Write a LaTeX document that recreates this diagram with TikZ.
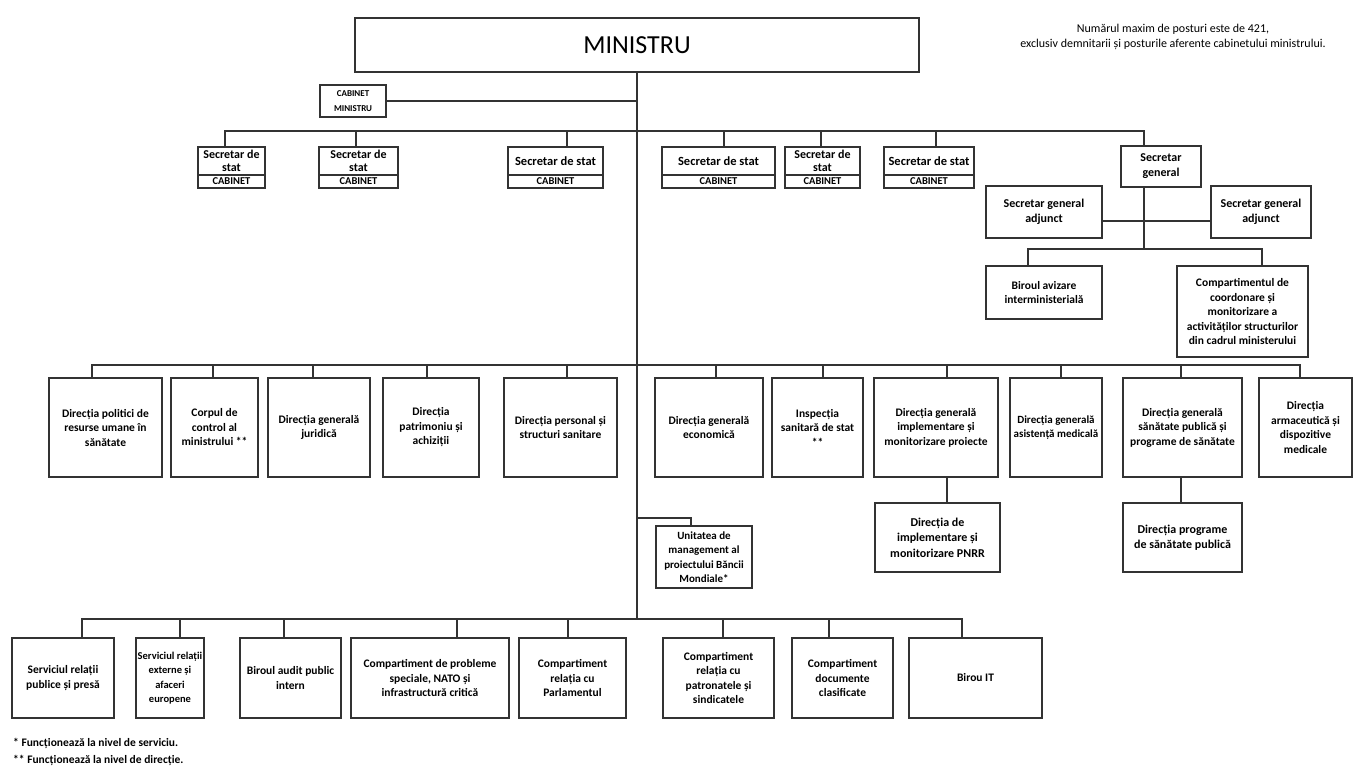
\documentclass[tikz,border=0pt]{standalone}
\usepackage{fontspec}
\setmainfont{Carlito}
\begin{document}
\begin{tikzpicture}[x=1pt,y=-1pt,
  line/.style={draw=black!80, line width=1.2pt},
  box/.style={draw=black!80, line width=1.3pt, fill=white, align=center, inner sep=1pt,
    font=\bfseries\fontsize{11.5}{14.5}\selectfont},
  wh/.style 2 args={minimum width=#1pt, minimum height=#2pt},
  secbox/.style={box, font=\bfseries\fontsize{12.5}{13}\selectfont},
  secboxtwo/.style={box, font=\bfseries\fontsize{12}{12.5}\selectfont},
  cabbox/.style={box, font=\bfseries\fontsize{10.5}{10.5}\selectfont},
  note/.style={align=center, font=\fontsize{12}{15}\selectfont},
  foot/.style={anchor=west, inner sep=0pt, font=\bfseries\fontsize{11.5}{12}\selectfont}
]
\fill[white] (0,0) rectangle (1357,767);
\useasboundingbox (0,0) rectangle (1357,767);

% ---- top
\node[box, wh={564}{54}, font=\fontsize{26}{28}\selectfont] (min) at (637,45) {MINISTRU};
\node[note] (nt) at (1173,36.5) {Numărul maxim de posturi este de 421,\\exclusiv demnitarii și posturile aferente cabinetului ministrului.};
\node[box, wh={66}{32}, font=\bfseries\fontsize{9}{15}\selectfont] (cab) at (353,101) {CABINET\\MINISTRU};

% ---- secretaries
\node[secboxtwo, wh={67}{28}] (s1) at (231.5,161) {Secretar de\\stat};
\node[cabbox, wh={67}{13}] (s1c) at (231.5,181.5) {CABINET};
\node[secboxtwo, wh={79}{28}] (s2) at (358.5,161) {Secretar de\\stat};
\node[cabbox, wh={79}{13}] (s2c) at (358.5,181.5) {CABINET};
\node[secbox, wh={95}{28}] (s3) at (555.5,161) {Secretar de stat};
\node[cabbox, wh={95}{13}] (s3c) at (555.5,181.5) {CABINET};
\node[secbox, wh={113}{28}] (s4) at (718.5,161) {Secretar de stat};
\node[cabbox, wh={113}{13}] (s4c) at (718.5,181.5) {CABINET};
\node[secboxtwo, wh={75}{28}] (s5) at (822.5,161) {Secretar de\\stat};
\node[cabbox, wh={75}{13}] (s5c) at (822.5,181.5) {CABINET};
\node[secbox, wh={90}{28}] (s6) at (929,161) {Secretar de stat};
\node[cabbox, wh={90}{13}] (s6c) at (929,181.5) {CABINET};
\node[box, wh={80}{41}, font=\bfseries\fontsize{12}{15}\selectfont] (sg) at (1161,166.5) {Secretar\\general};

\node[box, wh={116}{52}, font=\bfseries\fontsize{12}{15}\selectfont] (sga1) at (1044,212) {Secretar general\\adjunct};
\node[box, wh={100}{52}, font=\bfseries\fontsize{12}{15}\selectfont] (sga2) at (1261,212) {Secretar general\\adjunct};
\node[box, wh={116}{53}] (bav) at (1044,292.5) {Biroul avizare\\interministerială};
\node[box, wh={131}{91}] (comp) at (1242.5,311.5) {Compartimentul de\\coordonare și\\monitorizare a\\activităților structurilor\\din cadrul ministerului};

% ---- directions
\node[box, wh={113}{99}] (d1) at (105.5,427.5) {Direcția politici de\\resurse umane în\\sănătate};
\node[box, wh={87}{99}] (d2) at (214.5,427.5) {Corpul de\\control al\\ministrului **};
\node[box, wh={102}{99}] (d3) at (319,427.5) {Direcția generală\\juridică};
\node[box, wh={96}{99}] (d4) at (431,427.5) {Direcția\\patrimoniu și\\achiziții};
\node[box, wh={113}{99}] (d5) at (560.5,427.5) {Direcția personal și\\structuri sanitare};
\node[box, wh={108}{99}] (d6) at (709,427.5) {Direcția generală\\economică};
\node[box, wh={91}{99}] (d7) at (817.5,427.5) {Inspecția\\sanitară de stat\\**};
\node[box, wh={124}{99}] (d8) at (936,427.5) {Direcția generală\\implementare și\\monitorizare proiecte};
\node[box, wh={92}{99}, font=\bfseries\fontsize{11}{14.5}\selectfont] (d9) at (1056,427.5) {Direcția generală\\asistență medicală};
\node[box, wh={119}{99}] (d10) at (1182.5,427.5) {Direcția generală\\sănătate publică și\\programe de sănătate};
\node[box, wh={93}{99}] (d11) at (1305.5,427.5) {Direcția\\armaceutică și\\dispozitive\\medicale};

\node[box, wh={125}{69}, font=\bfseries\fontsize{12}{15.5}\selectfont] (pnrr) at (937.5,537.5) {Direcția de\\implementare și\\monitorizare PNRR};
\node[box, wh={119}{69}, font=\bfseries\fontsize{12}{15.5}\selectfont] (prog) at (1182.5,537.5) {Direcția programe\\de sănătate publică};
\node[box, wh={96}{62}, font=\bfseries\fontsize{11}{14.5}\selectfont] (unit) at (704,557) {Unitatea de\\management al\\proiectului Băncii\\Mondiale*};

% ---- bottom row
\node[box, wh={102}{80}] (b1) at (63,678) {Serviciul relații\\publice și presă};
\node[box, wh={68}{80}, font=\bfseries\fontsize{10.5}{14.5}\selectfont] (b2) at (170,678) {Serviciul relații\\externe și\\afaceri\\europene};
\node[box, wh={101}{80}] (b3) at (290.5,678) {Biroul audit public\\intern};
\node[box, wh={158}{80}] (b4) at (430,678) {Compartiment de probleme\\speciale, NATO și\\infrastructură critică};
\node[box, wh={107}{80}] (b5) at (572.5,678) {Compartiment\\relația cu\\Parlamentul};
\node[box, wh={111}{80}] (b6) at (718.5,678) {Compartiment\\relația cu\\patronatele și\\sindicatele};
\node[box, wh={101}{80}] (b7) at (842.5,678) {Compartiment\\documente\\clasificate};
\node[box, wh={133}{80}] (b8) at (975.5,678) {Birou IT};

\node[foot] (f1) at (13,743) {* Funcționează la nivel de serviciu.};
\node[foot] (f2) at (13,760) {** Funcționează la nivel de direcție.};

% ---- connectors
\coordinate (tb) at (637,131);
\coordinate (mb) at (637,365);
\coordinate (bb) at (637,619);
\coordinate (ub) at (637,518);
\coordinate (sgb) at (1144,249);

\draw[line] (min.south) -- (bb);
\draw[line] (cab.east) -- (cab.east -| min.south);

\draw[line] ([xshift=-6.5pt]s1.north) |- (tb);
\draw[line] ([xshift=-2.5pt]s2.north) |- (tb);
\draw[line] ([xshift=11.5pt]s3.north) |- (tb);
\draw[line] ([xshift=5.5pt]s4.north) |- (tb);
\draw[line] ([xshift=-1.5pt]s5.north) |- (tb);
\draw[line] ([xshift=7pt]s6.north) |- (tb);
\draw[line] ([xshift=-17pt]sg.north) |- (tb);

\draw[line] ([xshift=-17pt]sg.south) -- (sgb);
\draw[line] ([yshift=-9pt]sga1.east) -- ([yshift=-9pt]sga2.west);
\draw[line] ([xshift=-16pt]bav.north) |- (sgb);
\draw[line] ([xshift=19.5pt]comp.north) |- (sgb);

\draw[line] ([xshift=-13.5pt]d1.north) |- (mb);
\draw[line] ([xshift=-1.5pt]d2.north) |- (mb);
\draw[line] ([xshift=-6pt]d3.north) |- (mb);
\draw[line] ([xshift=-4pt]d4.north) |- (mb);
\draw[line] ([xshift=6.5pt]d5.north) |- (mb);
\draw[line] ([xshift=7pt]d6.north) |- (mb);
\draw[line] ([xshift=5.5pt]d7.north) |- (mb);
\draw[line] ([xshift=11pt]d8.north) |- (mb);
\draw[line] ([xshift=5pt]d9.north) |- (mb);
\draw[line] ([xshift=-1.5pt]d10.north) |- (mb);
\draw[line] ([xshift=-5.5pt]d11.north) |- (mb);

\draw[line] ([xshift=11pt]d8.south) -- ([xshift=11pt]d8.south |- pnrr.north);
\draw[line] ([xshift=-1.5pt]d10.south) -- ([xshift=-1.5pt]d10.south |- prog.north);
\draw[line] ([xshift=-13pt]unit.north) |- (ub);

\draw[line] ([xshift=19pt]b1.north) |- (bb);
\draw[line] ([xshift=10pt]b2.north) |- (bb);
\draw[line] ([xshift=-6.5pt]b3.north) |- (bb);
\draw[line] ([xshift=27pt]b4.north) |- (bb);
\draw[line] ([xshift=-4.5pt]b5.north) |- (bb);
\draw[line] ([xshift=4.5pt]b6.north) |- (bb);
\draw[line] ([xshift=-13.5pt]b7.north) |- (bb);
\draw[line] ([xshift=-13.5pt]b8.north) |- (bb);
\end{tikzpicture}
\end{document}
